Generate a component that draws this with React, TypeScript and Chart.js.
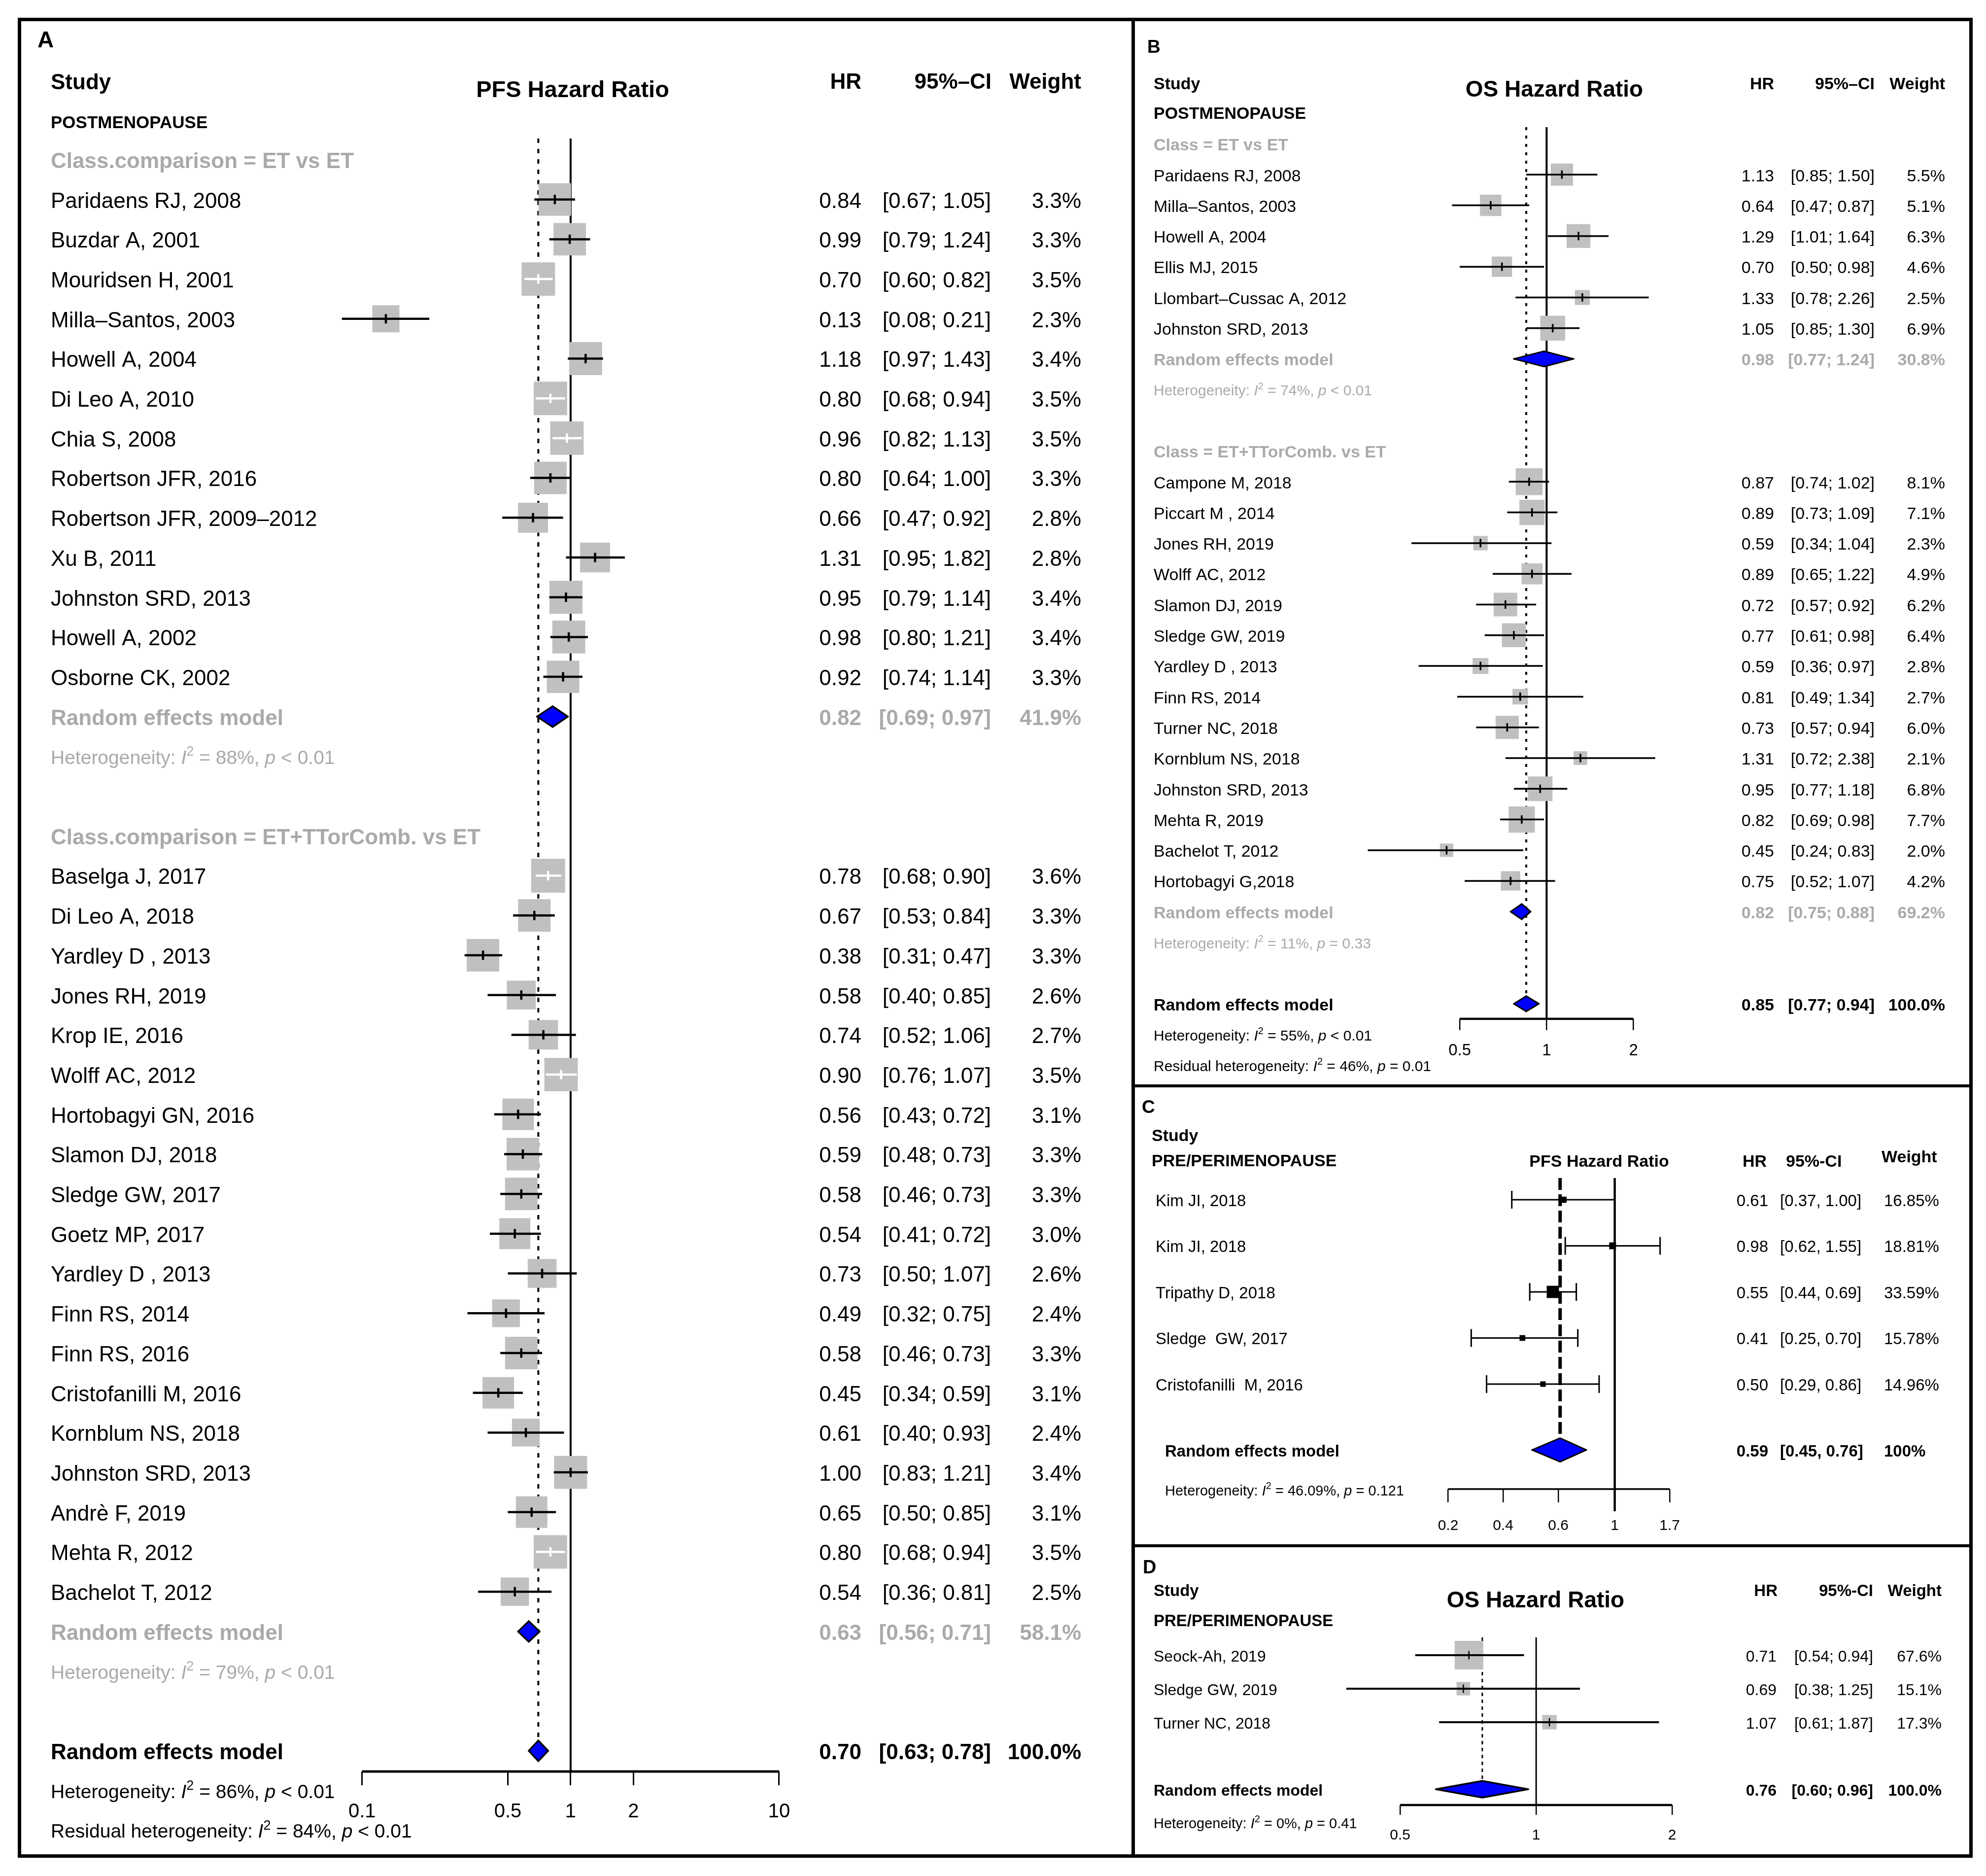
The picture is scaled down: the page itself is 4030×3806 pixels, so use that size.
import React, { useEffect, useRef } from 'react';
import { Chart, registerables } from 'chart.js';

Chart.register(...registerables);

const FONT = '"Liberation Sans", Arial, Helvetica, sans-serif';
Chart.defaults.font.family = FONT;
const GRAY = '#aaaaaa';
const BOX_GRAY = '#c0c0c0';
const BLUE = '#0000ff';

// ======================= DATA =======================
// Panel A – PFS hazard ratio, postmenopause
const groupsA = ['Class.comparison = ET vs ET', 'Class.comparison = ET+TTorComb. vs ET'];
const studiesA_ET = ['Paridaens RJ, 2008', 'Buzdar A, 2001', 'Mouridsen H, 2001', 'Milla–Santos, 2003', 'Howell A, 2004', 'Di Leo A, 2010', 'Chia S, 2008', 'Robertson JFR, 2016', 'Robertson JFR, 2009–2012', 'Xu B, 2011', 'Johnston SRD, 2013', 'Howell A, 2002', 'Osborne CK, 2002'];
const hrA_ET = [0.84, 0.99, 0.70, 0.13, 1.18, 0.80, 0.96, 0.80, 0.66, 1.31, 0.95, 0.98, 0.92];
const loA_ET = [0.67, 0.79, 0.60, 0.08, 0.97, 0.68, 0.82, 0.64, 0.47, 0.95, 0.79, 0.80, 0.74];
const hiA_ET = [1.05, 1.24, 0.82, 0.21, 1.43, 0.94, 1.13, 1.00, 0.92, 1.82, 1.14, 1.21, 1.14];
const wA_ET = [3.3, 3.3, 3.5, 2.3, 3.4, 3.5, 3.5, 3.3, 2.8, 2.8, 3.4, 3.4, 3.3];
const studiesA_TT = ['Baselga J, 2017', 'Di Leo A, 2018', 'Yardley D , 2013', 'Jones RH, 2019', 'Krop IE, 2016', 'Wolff AC, 2012', 'Hortobagyi GN, 2016', 'Slamon DJ, 2018', 'Sledge GW, 2017', 'Goetz MP, 2017', 'Yardley D , 2013', 'Finn RS, 2014', 'Finn RS, 2016', 'Cristofanilli M, 2016', 'Kornblum NS, 2018', 'Johnston SRD, 2013', 'Andrè F, 2019', 'Mehta R, 2012', 'Bachelot T, 2012'];
const hrA_TT = [0.78, 0.67, 0.38, 0.58, 0.74, 0.90, 0.56, 0.59, 0.58, 0.54, 0.73, 0.49, 0.58, 0.45, 0.61, 1.00, 0.65, 0.80, 0.54];
const loA_TT = [0.68, 0.53, 0.31, 0.40, 0.52, 0.76, 0.43, 0.48, 0.46, 0.41, 0.50, 0.32, 0.46, 0.34, 0.40, 0.83, 0.50, 0.68, 0.36];
const hiA_TT = [0.90, 0.84, 0.47, 0.85, 1.06, 1.07, 0.72, 0.73, 0.73, 0.72, 1.07, 0.75, 0.73, 0.59, 0.93, 1.21, 0.85, 0.94, 0.81];
const wA_TT = [3.6, 3.3, 3.3, 2.6, 2.7, 3.5, 3.1, 3.3, 3.3, 3.0, 2.6, 2.4, 3.3, 3.1, 2.4, 3.4, 3.1, 3.5, 2.5];
const pooledHrA = [0.82, 0.63, 0.70];
const pooledLoA = [0.69, 0.56, 0.63];
const pooledHiA = [0.97, 0.71, 0.78];
const pooledWA = [41.9, 58.1, 100.0];
const hetI2A = ['88%', '79%', '86%', '84%'];
const hetPA = ['< 0.01', '< 0.01', '< 0.01', '< 0.01'];
const ticksA = [0.1, 0.5, 1, 2, 10];
const tickLabelsA = ['0.1', '0.5', '1', '2', '10'];

// Panel B – OS hazard ratio, postmenopause
const groupsB = ['Class = ET vs ET', 'Class = ET+TTorComb. vs ET'];
const studiesB_ET = ['Paridaens RJ, 2008', 'Milla–Santos, 2003', 'Howell A, 2004', 'Ellis MJ, 2015', 'Llombart–Cussac A, 2012', 'Johnston SRD, 2013'];
const hrB_ET = [1.13, 0.64, 1.29, 0.70, 1.33, 1.05];
const loB_ET = [0.85, 0.47, 1.01, 0.50, 0.78, 0.85];
const hiB_ET = [1.50, 0.87, 1.64, 0.98, 2.26, 1.30];
const wB_ET = [5.5, 5.1, 6.3, 4.6, 2.5, 6.9];
const studiesB_TT = ['Campone M, 2018', 'Piccart M , 2014', 'Jones RH, 2019', 'Wolff AC, 2012', 'Slamon DJ, 2019', 'Sledge GW, 2019', 'Yardley D , 2013', 'Finn RS, 2014', 'Turner NC, 2018', 'Kornblum NS, 2018', 'Johnston SRD, 2013', 'Mehta R, 2019', 'Bachelot T, 2012', 'Hortobagyi G,2018'];
const hrB_TT = [0.87, 0.89, 0.59, 0.89, 0.72, 0.77, 0.59, 0.81, 0.73, 1.31, 0.95, 0.82, 0.45, 0.75];
const loB_TT = [0.74, 0.73, 0.34, 0.65, 0.57, 0.61, 0.36, 0.49, 0.57, 0.72, 0.77, 0.69, 0.24, 0.52];
const hiB_TT = [1.02, 1.09, 1.04, 1.22, 0.92, 0.98, 0.97, 1.34, 0.94, 2.38, 1.18, 0.98, 0.83, 1.07];
const wB_TT = [8.1, 7.1, 2.3, 4.9, 6.2, 6.4, 2.8, 2.7, 6.0, 2.1, 6.8, 7.7, 2.0, 4.2];
const pooledHrB = [0.98, 0.82, 0.85];
const pooledLoB = [0.77, 0.75, 0.77];
const pooledHiB = [1.24, 0.88, 0.94];
const pooledWB = [30.8, 69.2, 100.0];
const hetI2B = ['74%', '11%', '55%', '46%'];
const hetPB = ['< 0.01', '= 0.33', '< 0.01', '= 0.01'];
const ticksB = [0.5, 1, 2];
const tickLabelsB = ['0.5', '1', '2'];

// Panel C – PFS hazard ratio, pre/perimenopause
const studiesC = ['Kim JI, 2018', 'Kim JI, 2018', 'Tripathy D, 2018', 'Sledge  GW, 2017', 'Cristofanilli  M, 2016'];
const hrC = [0.61, 0.98, 0.55, 0.41, 0.50];
const loC = [0.37, 0.62, 0.44, 0.25, 0.29];
const hiC = [1.00, 1.55, 0.69, 0.70, 0.86];
const wC = [16.85, 18.81, 33.59, 15.78, 14.96];
const pooledHrC = [0.59];
const pooledLoC = [0.45];
const pooledHiC = [0.76];
const pooledWC = [100];
const hetI2C = ['46.09%'];
const hetPC = ['= 0.121'];
const ticksC = [0.2, 0.34, 0.58, 1, 1.7];
const tickLabelsC = ['0.2', '0.4', '0.6', '1', '1.7'];

// Panel D – OS hazard ratio, pre/perimenopause
const studiesD = ['Seock-Ah, 2019', 'Sledge GW, 2019', 'Turner NC, 2018'];
const hrD = [0.71, 0.69, 1.07];
const loD = [0.54, 0.38, 0.61];
const hiD = [0.94, 1.25, 1.87];
const wD = [67.6, 15.1, 17.3];
const pooledHrD = [0.76];
const pooledLoD = [0.60];
const pooledHiD = [0.96];
const pooledWD = [100.0];
const hetI2D = ['0%'];
const hetPD = ['= 0.41'];
const ticksD = [0.5, 1, 2];
const tickLabelsD = ['0.5', '1', '2'];

// ======================= HELPERS =======================
type Seg = { t: string; it?: boolean; sup?: boolean };
type TextItem = { x: number; y?: number; row?: number; segs: string | Seg[]; size: number; bold?: boolean; color?: string; align?: 'left' | 'right' | 'center' };

const f2 = (v: number) => v.toFixed(2);
const het = (i2: string, p: string, prefix = 'Heterogeneity: '): Seg[] => [
  { t: prefix }, { t: 'I', it: true }, { t: '2', sup: true }, { t: ` = ${i2}, ` }, { t: 'p', it: true }, { t: ` ${p}` },
];

function zipStudies(hr: number[], lo: number[], hi: number[], w: number[], firstRow: number) {
  return hr.map((h, i) => ({ hr: h, lo: lo[i], hi: hi[i], w: w[i], row: firstRow + i }));
}

function rowTexts(names: string[], hr: number[], lo: number[], hi: number[], w: number[], rows: number[], c: any): TextItem[] {
  const out: TextItem[] = [];
  names.forEach((n, i) => {
    const r = rows[i];
    const common = { row: r, color: c.color || '#000', bold: !!c.bold };
    out.push({ ...common, x: c.nameX, segs: n, size: c.size });
    out.push({ ...common, x: c.hrX, segs: f2(hr[i]), size: c.numSize, align: 'right' });
    out.push({ ...common, x: c.ciX, segs: `[${f2(lo[i])}${c.sep} ${f2(hi[i])}]`, size: c.numSize, align: c.ciAlign });
    out.push({ ...common, x: c.wX, segs: c.wFmt(w[i]), size: c.numSize, align: c.wAlign });
  });
  return out;
}

function drawRich(ctx: CanvasRenderingContext2D, it: TextItem, x: number, y: number) {
  const segs: Seg[] = typeof it.segs === 'string' ? [{ t: it.segs }] : it.segs;
  const fontFor = (s: Seg) => `${s.it ? 'italic ' : ''}${it.bold ? 'bold ' : ''}${s.sup ? Math.round(it.size * 0.68) : it.size}px ${FONT}`;
  let total = 0;
  const widths = segs.map((s) => {
    ctx.font = fontFor(s);
    const w = ctx.measureText(s.t).width;
    total += w;
    return w;
  });
  let cx = it.align === 'right' ? x - total : it.align === 'center' ? x - total / 2 : x;
  // cap-height centred on y
  const base = y + it.size * 0.36 + 1;
  ctx.textBaseline = 'alphabetic';
  ctx.textAlign = 'left';
  ctx.fillStyle = it.color || '#000';
  segs.forEach((s, i) => {
    ctx.font = fontFor(s);
    ctx.fillText(s.t, cx, s.sup ? base - it.size * 0.42 : base);
    cx += widths[i];
  });
}

function makeConfig(p: any): any {
  const { rect } = p;
  const L = rect.x + 12;
  const R = rect.x + rect.w - 12;
  const xmin = Math.pow(10, (L - p.x1) / p.dpx);
  const xmax = Math.pow(10, (R - p.x1) / p.dpx);
  const ymin = (p.lineTop - p.row0) / p.rowH;
  const ymax = (p.axisY - p.row0) / p.rowH;
  const st = p.studies;
  const sides: number[] = st.map((s: any) => p.side(s.w));
  const inside = (chart: any, i: number) => {
    if (!p.whiteInside) return false;
    const xs = chart.scales.x;
    return xs.getPixelForValue(st[i].hi) - xs.getPixelForValue(st[i].lo) + 4 < sides[i];
  };
  const base = { pointRadius: 0, pointHoverRadius: 0, clip: false, fill: false, tension: 0 };
  const ds: any[] = [];
  // reference lines (drawn first, below boxes)
  ds.push({ ...base, type: 'line', order: 10, data: [{ x: p.solid.at, y: ymin }, { x: p.solid.at, y: (p.solid.endY - p.row0) / p.rowH }], borderColor: '#000', borderWidth: p.solid.width });
  ds.push({ ...base, type: 'line', order: 9, data: [{ x: p.dashed.at, y: ymin }, { x: p.dashed.at, y: p.dashed.endRow }], borderColor: '#000', borderWidth: p.dashed.width, borderDash: p.dashed.dash });
  // axis baseline between first and last tick
  ds.push({ ...base, type: 'line', order: 8, data: [{ x: p.ticks[0], y: ymax }, { x: p.ticks[p.ticks.length - 1], y: ymax }], borderColor: '#000', borderWidth: p.axisWidth });
  // study boxes
  ds.push({
    type: 'scatter', order: 7, clip: false,
    data: st.map((s: any) => ({ x: s.hr, y: s.row })),
    pointStyle: 'rect', pointRadius: sides.map((s) => s * Math.SQRT1_2), pointHoverRadius: sides.map((s) => s * Math.SQRT1_2),
    pointBackgroundColor: p.boxColor, pointBorderWidth: 0, pointHoverBorderWidth: 0,
  });
  // confidence intervals
  ds.push({
    ...base, type: 'line', order: 6, spanGaps: false,
    data: st.flatMap((s: any) => [{ x: s.lo, y: s.row }, { x: s.hi, y: s.row }, { x: s.hi, y: null }]),
    borderColor: '#000', borderWidth: p.ciWidth,
    segment: {
      borderColor: (c: any) => (p.whiteInside && c.p1.x - c.p0.x + 4 < sides[Math.floor(c.p0DataIndex / 3)] ? '#ffffff' : undefined),
    },
  });
  // centre ticks
  if (p.tick) {
    ds.push({
      type: 'scatter', order: 5, clip: false,
      data: st.map((s: any) => ({ x: s.hr, y: s.row })),
      pointStyle: 'line', pointRotation: 90, pointRadius: p.tick.half, pointHoverRadius: p.tick.half,
      pointBorderWidth: p.tick.width, pointHoverBorderWidth: p.tick.width,
      pointBackgroundColor: 'rgba(0,0,0,0)',
      pointBorderColor: (c: any) => (c.dataIndex != null && inside(c.chart, c.dataIndex) ? '#ffffff' : '#000000'),
    });
  }
  // whisker caps
  if (p.caps) {
    ds.push({
      type: 'scatter', order: 4, clip: false,
      data: st.flatMap((s: any) => [{ x: s.lo, y: s.row }, { x: s.hi, y: s.row }]),
      pointStyle: 'line', pointRotation: 90, pointRadius: p.caps.half, pointHoverRadius: p.caps.half,
      pointBorderWidth: p.caps.width, pointBorderColor: '#000', pointBackgroundColor: 'rgba(0,0,0,0)',
    });
  }
  // pooled diamonds: upper half + lower half filled between them
  p.diamonds.forEach((d: any) => {
    const h = p.diamondHalf;
    ds.push({ ...base, type: 'line', order: 0, data: [{ x: d.lo, y: d.row }, { x: d.hr, y: d.row - h }, { x: d.hi, y: d.row }], borderColor: '#000', borderWidth: p.diamondBorder, borderCapStyle: 'round', borderJoinStyle: 'miter' });
    ds.push({ ...base, type: 'line', order: 0, data: [{ x: d.lo, y: d.row }, { x: d.hr, y: d.row + h }, { x: d.hi, y: d.row }], borderColor: '#000', borderWidth: p.diamondBorder, borderCapStyle: 'round', borderJoinStyle: 'miter', backgroundColor: BLUE, fill: '-1' });
  });

  const textPlugin = {
    id: 'forestText',
    afterDraw(chart: any) {
      const ctx = chart.ctx;
      const ys = chart.scales.y;
      ctx.save();
      for (const it of p.texts as TextItem[]) {
        const y = it.row != null ? ys.getPixelForValue(it.row) : (it.y as number) - rect.y;
        drawRich(ctx, it, it.x - rect.x, y);
      }
      ctx.restore();
    },
  };

  return {
    type: 'scatter',
    data: { datasets: ds },
    plugins: [textPlugin],
    options: {
      animation: false,
      responsive: false,
      maintainAspectRatio: false,
      devicePixelRatio: 1,
      events: [],
      layout: { padding: { left: L - rect.x, right: rect.x + rect.w - R, top: p.lineTop - rect.y, bottom: rect.y + rect.h - p.axisY - p.axisH } },
      plugins: { legend: { display: false }, tooltip: { enabled: false }, title: { display: false } },
      scales: {
        x: {
          type: 'logarithmic', min: xmin, max: xmax, bounds: 'data',
          afterBuildTicks: (s: any) => { s.ticks = p.ticks.map((v: number) => ({ value: v })); },
          afterFit: (s: any) => { s.height = p.axisH; },
          grid: { display: true, drawOnChartArea: false, drawTicks: true, tickLength: p.tickLen, lineWidth: p.tickWidth, tickWidth: p.tickWidth, color: '#000', tickColor: '#000' },
          border: { display: false },
          ticks: {
            autoSkip: false, maxRotation: 0, minRotation: 0, padding: p.tickPad, color: '#000',
            font: { family: FONT, size: p.tickFont, lineHeight: 1 },
            callback: (_v: any, i: number) => p.tickLabels[i],
          },
        },
        y: { type: 'linear', reverse: true, min: ymin, max: ymax, bounds: 'data', display: false },
      },
    },
  };
}

// ======================= PANELS =======================
const wf1 = (w: number) => `${w.toFixed(1)}%`;

function panelA() {
  const rowsET = studiesA_ET.map((_, i) => 1 + i);
  const rowsTT = studiesA_TT.map((_, i) => 18 + i);
  const pooledRows = [14, 37, 40];
  const hetRows = [15, 38, 41, 42];
  const col = { nameX: 103, hrX: 1748, ciX: 2011, wX: 2194, size: 44, numSize: 44, sep: ';', ciAlign: 'right', wAlign: 'right', wFmt: wf1 };
  const texts: TextItem[] = [
    { x: 76, y: 78, segs: 'A', size: 46, bold: true },
    { x: 103, y: 164, segs: 'Study', size: 44, bold: true },
    { x: 1162, y: 179, segs: 'PFS Hazard Ratio', size: 47, bold: true, align: 'center' },
    { x: 1748, y: 163, segs: 'HR', size: 44, bold: true, align: 'right' },
    { x: 2012, y: 163, segs: '95%–CI', size: 44, bold: true, align: 'right' },
    { x: 2194, y: 163, segs: 'Weight', size: 44, bold: true, align: 'right' },
    { x: 103, y: 246, segs: 'POSTMENOPAUSE', size: 35, bold: true },
    { x: 103, row: 0, segs: groupsA[0], size: 44, bold: true, color: GRAY },
    { x: 103, row: 17, segs: groupsA[1], size: 44, bold: true, color: GRAY },
    ...rowTexts(studiesA_ET, hrA_ET, loA_ET, hiA_ET, wA_ET, rowsET, col),
    ...rowTexts(studiesA_TT, hrA_TT, loA_TT, hiA_TT, wA_TT, rowsTT, col),
    ...rowTexts(['Random effects model', 'Random effects model'], pooledHrA.slice(0, 2), pooledLoA.slice(0, 2), pooledHiA.slice(0, 2), pooledWA.slice(0, 2), pooledRows.slice(0, 2), { ...col, bold: true, color: GRAY }),
    ...rowTexts(['Random effects model'], pooledHrA.slice(2), pooledLoA.slice(2), pooledHiA.slice(2), pooledWA.slice(2), pooledRows.slice(2), { ...col, bold: true }),
    { x: 103, row: hetRows[0], segs: het(hetI2A[0], hetPA[0]), size: 39, color: GRAY },
    { x: 103, row: hetRows[1], segs: het(hetI2A[1], hetPA[1]), size: 39, color: GRAY },
    { x: 103, row: hetRows[2], segs: het(hetI2A[2], hetPA[2]), size: 39 },
    { x: 103, row: hetRows[3], segs: het(hetI2A[3], hetPA[3], 'Residual heterogeneity: '), size: 39 },
  ];
  return {
    rect: { x: 43, y: 43, w: 2253, h: 3720 },
    row0: 324, rowH: 80.7, lineTop: 281, axisY: 3594, x1: 1157.5, dpx: 437.5,
    axisH: 100, tickLen: 28, tickPad: 34, tickFont: 40, tickWidth: 3, axisWidth: 5,
    ticks: ticksA, tickLabels: tickLabelsA,
    studies: [...zipStudies(hrA_ET, loA_ET, hiA_ET, wA_ET, 1), ...zipStudies(hrA_TT, loA_TT, hiA_TT, wA_TT, 18)],
    side: (w: number) => 36.3 * Math.sqrt(w), boxColor: BOX_GRAY, whiteInside: true,
    ciWidth: 4.5, tick: { half: 9.5, width: 4.5 }, caps: null,
    diamonds: pooledHrA.map((h, i) => ({ hr: h, lo: pooledLoA[i], hi: pooledHiA[i], row: pooledRows[i] })),
    diamondHalf: 0.26, diamondBorder: 3.5,
    solid: { at: 1, endY: 3594, width: 4 },
    dashed: { at: pooledHrA[2], endRow: pooledRows[2], width: 4, dash: [9, 12] },
    texts,
  };
}

function panelB() {
  const rowsET = studiesB_ET.map((_, i) => 1 + i);
  const rowsTT = studiesB_TT.map((_, i) => 11 + i);
  const pooledRows = [7, 25, 28];
  const hetRows = [8, 26, 29, 30];
  const col = { nameX: 2341, hrX: 3600, ciX: 3804, wX: 3947, size: 34, numSize: 34, sep: ';', ciAlign: 'right', wAlign: 'right', wFmt: wf1 };
  const texts: TextItem[] = [
    { x: 2328, y: 93, segs: 'B', size: 37, bold: true },
    { x: 2341, y: 168, segs: 'Study', size: 34, bold: true },
    { x: 3154, y: 178, segs: 'OS Hazard Ratio', size: 46, bold: true, align: 'center' },
    { x: 3600, y: 168, segs: 'HR', size: 34, bold: true, align: 'right' },
    { x: 3804, y: 168, segs: '95%–CI', size: 34, bold: true, align: 'right' },
    { x: 3947, y: 168, segs: 'Weight', size: 34, bold: true, align: 'right' },
    { x: 2341, y: 228, segs: 'POSTMENOPAUSE', size: 34, bold: true },
    { x: 2341, row: 0, segs: groupsB[0], size: 34, bold: true, color: GRAY },
    { x: 2341, row: 10, segs: groupsB[1], size: 34, bold: true, color: GRAY },
    ...rowTexts(studiesB_ET, hrB_ET, loB_ET, hiB_ET, wB_ET, rowsET, col),
    ...rowTexts(studiesB_TT, hrB_TT, loB_TT, hiB_TT, wB_TT, rowsTT, col),
    ...rowTexts(['Random effects model', 'Random effects model'], pooledHrB.slice(0, 2), pooledLoB.slice(0, 2), pooledHiB.slice(0, 2), pooledWB.slice(0, 2), pooledRows.slice(0, 2), { ...col, bold: true, color: GRAY }),
    ...rowTexts(['Random effects model'], pooledHrB.slice(2), pooledLoB.slice(2), pooledHiB.slice(2), pooledWB.slice(2), pooledRows.slice(2), { ...col, bold: true }),
    { x: 2341, row: hetRows[0], segs: het(hetI2B[0], hetPB[0]), size: 30, color: GRAY },
    { x: 2341, row: hetRows[1], segs: het(hetI2B[1], hetPB[1]), size: 30, color: GRAY },
    { x: 2341, row: hetRows[2], segs: het(hetI2B[2], hetPB[2]), size: 30 },
    { x: 2341, row: hetRows[3], segs: het(hetI2B[3], hetPB[3], 'Residual heterogeneity: '), size: 30 },
  ];
  return {
    rect: { x: 2303, y: 43, w: 1693, h: 2157 },
    row0: 292, rowH: 62.3, lineTop: 258, axisY: 2067, x1: 3138, dpx: 604.6,
    axisH: 100, tickLen: 23, tickPad: 25, tickFont: 33, tickWidth: 2.5, axisWidth: 4.5,
    ticks: ticksB, tickLabels: tickLabelsB,
    studies: [...zipStudies(hrB_ET, loB_ET, hiB_ET, wB_ET, 1), ...zipStudies(hrB_TT, loB_TT, hiB_TT, wB_TT, 11)],
    side: (w: number) => 19.2 * Math.sqrt(w), boxColor: BOX_GRAY, whiteInside: true,
    ciWidth: 3.5, tick: { half: 8.5, width: 3.5 }, caps: null,
    diamonds: pooledHrB.map((h, i) => ({ hr: h, lo: pooledLoB[i], hi: pooledHiB[i], row: pooledRows[i] })),
    diamondHalf: 0.25, diamondBorder: 3,
    solid: { at: 1, endY: 2067, width: 4 },
    dashed: { at: pooledHrB[2], endRow: pooledRows[2], width: 4, dash: [6, 11] },
    texts,
  };
}

function panelC() {
  const rows = studiesC.map((_, i) => i);
  const pooledRow = 5.43;
  const col = { nameX: 2345, hrX: 3588, ciX: 3612, wX: 3823, size: 33, numSize: 33, sep: ',', ciAlign: 'left', wAlign: 'left', wFmt: (w: number) => `${w.toFixed(2)}%` };
  const texts: TextItem[] = [
    { x: 2317, y: 2244, segs: 'C', size: 37, bold: true },
    { x: 2337, y: 2302, segs: 'Study', size: 34, bold: true },
    { x: 2337, y: 2353, segs: 'PRE/PERIMENOPAUSE', size: 34, bold: true },
    { x: 3245, y: 2354, segs: 'PFS Hazard Ratio', size: 34, bold: true, align: 'center' },
    { x: 3585, y: 2354, segs: 'HR', size: 34, bold: true, align: 'right' },
    { x: 3624, y: 2354, segs: '95%-CI', size: 34, bold: true },
    { x: 3818, y: 2345, segs: 'Weight', size: 34, bold: true },
    ...rowTexts(studiesC, hrC, loC, hiC, wC, rows, col),
    ...rowTexts(['Random effects model'], pooledHrC, pooledLoC, pooledHiC, pooledWC, [pooledRow], { ...col, nameX: 2364, bold: true, wFmt: (w: number) => `${w}%` }),
    { x: 2364, row: 6.29, segs: het(hetI2C[0], hetPC[0]), size: 29 },
  ];
  return {
    rect: { x: 2303, y: 2206, w: 1693, h: 927 },
    row0: 2434, rowH: 93.5, lineTop: 2390, axisY: 3021, x1: 3278, dpx: 489,
    axisH: 100, tickLen: 27, tickPad: 33, tickFont: 30, tickWidth: 2.5, axisWidth: 3.5,
    ticks: ticksC, tickLabels: tickLabelsC,
    studies: zipStudies(hrC, loC, hiC, wC, 0),
    side: (w: number) => 0.74 * w, boxColor: '#000', whiteInside: false,
    ciWidth: 3, tick: null, caps: { half: 18, width: 3 },
    diamonds: [{ hr: pooledHrC[0], lo: pooledLoC[0], hi: pooledHiC[0], row: pooledRow }],
    diamondHalf: 0.257, diamondBorder: 3,
    solid: { at: 1, endY: 3066, width: 4.5 },
    dashed: { at: pooledHrC[0], endRow: pooledRow, width: 7, dash: [24, 9] },
    texts,
  };
}

function panelD() {
  const rows = studiesD.map((_, i) => i);
  const pooledRow = 4;
  const col = { nameX: 2341, hrX: 3605, ciX: 3801, wX: 3940, size: 32, numSize: 32, sep: ';', ciAlign: 'right', wAlign: 'right', wFmt: wf1 };
  const texts: TextItem[] = [
    { x: 2319, y: 3177, segs: 'D', size: 38, bold: true },
    { x: 2341, y: 3225, segs: 'Study', size: 33, bold: true },
    { x: 3116, y: 3243, segs: 'OS Hazard Ratio', size: 46, bold: true, align: 'center' },
    { x: 3607, y: 3225, segs: 'HR', size: 33, bold: true, align: 'right' },
    { x: 3801, y: 3225, segs: '95%-CI', size: 33, bold: true, align: 'right' },
    { x: 3940, y: 3225, segs: 'Weight', size: 33, bold: true, align: 'right' },
    { x: 2341, y: 3286, segs: 'PRE/PERIMENOPAUSE', size: 33, bold: true },
    ...rowTexts(studiesD, hrD, loD, hiD, wD, rows, col),
    ...rowTexts(['Random effects model'], pooledHrD, pooledLoD, pooledHiD, pooledWD, [pooledRow], { ...col, bold: true }),
    { x: 2341, row: 5, segs: het(hetI2D[0], hetPD[0]), size: 29 },
  ];
  return {
    rect: { x: 2303, y: 3139, w: 1693, h: 624 },
    row0: 3358, rowH: 68, lineTop: 3322, axisY: 3662, x1: 3116, dpx: 950,
    axisH: 80, tickLen: 20, tickPad: 27, tickFont: 30, tickWidth: 2.5, axisWidth: 4.5,
    ticks: ticksD, tickLabels: tickLabelsD,
    studies: zipStudies(hrD, loD, hiD, wD, 0),
    side: (w: number) => 7.05 * Math.sqrt(w), boxColor: BOX_GRAY, whiteInside: true,
    ciWidth: 4, tick: { half: 8.5, width: 2.5 }, caps: null,
    diamonds: [{ hr: pooledHrD[0], lo: pooledLoD[0], hi: pooledHiD[0], row: pooledRow }],
    diamondHalf: 0.25, diamondBorder: 3.5,
    solid: { at: 1, endY: 3662, width: 3 },
    dashed: { at: pooledHrD[0], endRow: pooledRow, width: 3, dash: [7, 7] },
    texts,
  };
}

const PANELS = [panelA(), panelB(), panelC(), panelD()];

export default function App() {
  const canvases = useRef<Array<HTMLCanvasElement | null>>([]);
  useEffect(() => {
    document.body.style.margin = '0';
    const charts = PANELS.map((p, i) => new Chart(canvases.current[i] as HTMLCanvasElement, makeConfig(p)));
    return () => charts.forEach((c) => c.destroy());
  }, []);
  const bar = (left: number, top: number, width: number, height: number) => (
    <div style={{ position: 'absolute', left, top, width, height, background: '#000' }} />
  );
  return (
    <div style={{ position: 'absolute', left: 0, top: 0, width: 4030, height: 3806, background: '#fff', overflow: 'hidden' }}>
      {PANELS.map((p, i) => (
        <canvas
          key={i}
          ref={(el) => { canvases.current[i] = el; }}
          width={p.rect.w}
          height={p.rect.h}
          style={{ position: 'absolute', left: p.rect.x, top: p.rect.y, width: p.rect.w, height: p.rect.h }}
        />
      ))}
      <div style={{ position: 'absolute', left: 36, top: 36, width: 3967, height: 3733, border: '7px solid #000', boxSizing: 'border-box' }} />
      {bar(2296, 36, 7, 3733)}
      {bar(2296, 2200, 1707, 6)}
      {bar(2296, 3133, 1707, 6)}
    </div>
  );
}
